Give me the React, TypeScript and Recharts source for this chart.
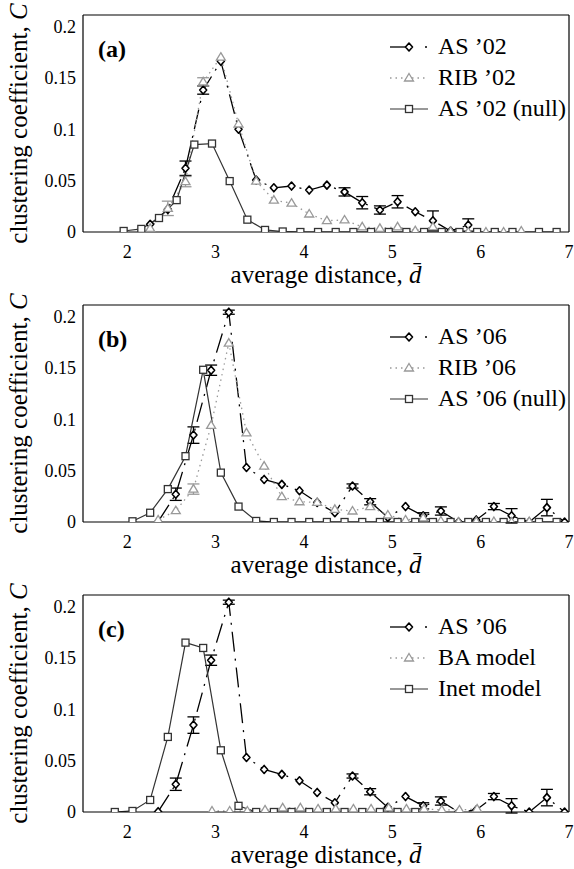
import React from "react";
import { LineChart, Line, XAxis, YAxis, ErrorBar, Legend } from "recharts";

const W = 574;
const H = 290;
const FONT = "Liberation Serif";

const xTicks = [2, 3, 4, 5, 6, 7];
const yTicks = [0, 0.05, 0.1, 0.15, 0.2];

// (a) 2002 snapshot
const as02X = [2.26, 2.46, 2.66, 2.86, 3.06, 3.26, 3.46, 3.66, 3.86, 4.06, 4.26, 4.46, 4.66, 4.86, 5.06, 5.26, 5.46, 5.66, 5.86];
const as02Y = [0.0075, 0.022, 0.062, 0.138, 0.166, 0.1, 0.0505, 0.043, 0.0447, 0.0408, 0.0456, 0.039, 0.0285, 0.0214, 0.0294, 0.0197, 0.011, 0.001, 0.0068];
const as02Err = [0, 0, 0.007, 0.004, 0, 0, 0, 0, 0, 0, 0, 0.004, 0.006, 0.004, 0.006, 0, 0.0095, 0, 0.006];

const rib02X = [2.26, 2.46, 2.66, 2.86, 3.06, 3.26, 3.46, 3.66, 3.86, 4.06, 4.26, 4.46, 4.66, 4.86, 5.06, 5.26, 5.46, 5.66, 5.86, 6.06, 6.26, 6.46];
const rib02Y = [0.0036, 0.023, 0.049, 0.146, 0.17, 0.105, 0.0495, 0.031, 0.028, 0.0175, 0.011, 0.0117, 0.005, 0.0036, 0.005, 0.0013, 0.005, 0.0005, 0, 0, 0, 0.001];
const rib02Err = [0, 0.007, 0.005, 0.004, 0, 0, 0, 0, 0, 0, 0, 0, 0, 0, 0, 0, 0, 0, 0, 0, 0, 0];

const null02X = [1.96, 2.16, 2.36, 2.56, 2.76, 2.96, 3.16, 3.36, 3.56, 3.76, 3.96, 4.16, 4.36, 4.56, 4.76, 4.96, 5.16, 5.36, 5.56, 5.76, 5.96, 6.16, 6.36, 6.66, 6.86];
const null02Y = [0.001, 0.003, 0.0136, 0.031, 0.085, 0.086, 0.0495, 0.012, 0.002, 0.0005, 0, 0, 0, 0, 0, 0, 0, 0, 0, 0, 0, 0, 0, 0, 0];

// (b), (c) 2006 snapshot
const as06X = [2.35, 2.55, 2.75, 2.95, 3.15, 3.35, 3.55, 3.75, 3.95, 4.15, 4.35, 4.55, 4.75, 4.95, 5.15, 5.35, 5.55, 5.75, 5.95, 6.15, 6.35, 6.55, 6.75, 6.95];
const as06Y = [0.0003, 0.027, 0.0845, 0.1476, 0.204, 0.053, 0.0414, 0.0366, 0.0304, 0.019, 0.009, 0.035, 0.0197, 0.0045, 0.015, 0.006, 0.0107, 0, 0.002, 0.015, 0.006, 0, 0.014, 0];
const as06Err = [0, 0.006, 0.008, 0.005, 0.002, 0, 0, 0, 0, 0, 0, 0.002, 0.003, 0, 0, 0.003, 0.004, 0, 0, 0.003, 0.007, 0, 0.008, 0];

const rib06X = [2.35, 2.55, 2.75, 2.95, 3.15, 3.35, 3.55, 3.75, 3.95, 4.15, 4.35, 4.55, 4.75, 4.95, 5.15, 5.35, 5.55, 5.75, 5.95, 6.15, 6.35, 6.55];
const rib06Y = [0.002, 0.011, 0.032, 0.094, 0.174, 0.0867, 0.0544, 0.0246, 0.0197, 0.019, 0.0123, 0.0107, 0.015, 0.0068, 0.002, 0.004, 0.001, 0, 0.0005, 0.0005, 0, 0.0005];
const rib06Err = [0, 0, 0.005, 0, 0, 0, 0, 0, 0, 0, 0, 0, 0, 0, 0, 0, 0, 0, 0, 0, 0, 0];

const null06X = [2.06, 2.26, 2.46, 2.66, 2.86, 3.06, 3.26, 3.46, 3.66, 3.86, 4.06, 4.26, 4.46, 4.66, 4.86, 5.06, 5.26, 5.46, 5.66, 5.86, 6.06, 6.26, 6.46, 6.66, 6.86];
const null06Y = [0.0007, 0.009, 0.032, 0.064, 0.148, 0.048, 0.015, 0.001, 0, 0, 0, 0, 0, 0, 0, 0, 0, 0, 0, 0, 0, 0, 0, 0, 0];

const baX = [2.96, 3.16, 3.36, 3.56, 3.76, 3.96, 4.16, 4.36, 4.56, 4.76, 4.96, 5.16, 5.36, 5.56, 5.76, 5.96];
const baY = [0.001, 0.001, 0.001, 0.002, 0.004, 0.004, 0.003, 0.003, 0.003, 0.003, 0.004, 0.003, 0.003, 0.002, 0.002, 0.003];

const inetX = [1.86, 2.06, 2.26, 2.46, 2.66, 2.86, 3.06, 3.26, 3.46, 3.66, 3.86, 4.06, 4.26, 4.46, 4.66, 4.86, 5.06, 5.26];
const inetY = [0, 0.001, 0.0117, 0.073, 0.1647, 0.1595, 0.06, 0.006, 0, 0, 0, 0, 0, 0, 0, 0, 0, 0];

type Row = { x: number; y: number; err: number };
type Kind = "as" | "rib" | "null";
type Series = { name: string; kind: Kind; data: Row[] };

const rows = (xs: number[], ys: number[], errs?: number[]): Row[] =>
  xs.map((x, i) => ({ x, y: ys[i], err: errs ? errs[i] : 0 }));

const STYLE: Record<Kind, { stroke: string; dash?: string; width: number }> = {
  as: { stroke: "#000", dash: "20 7 2 7", width: 1.3 },
  rib: { stroke: "#999", dash: "1.5 4", width: 1.3 },
  null: { stroke: "#333", width: 1.2 },
};

function Marker({ kind, cx, cy }: { kind: Kind; cx: number; cy: number }) {
  if (kind === "as")
    return (
      <polygon
        points={`${cx},${cy - 4} ${cx + 3.5},${cy} ${cx},${cy + 4} ${cx - 3.5},${cy}`}
        fill="#fff"
        stroke="#000"
        strokeWidth={1.6}
        strokeLinejoin="round"
      />
    );
  if (kind === "rib")
    return (
      <polygon
        points={`${cx},${cy - 4.5} ${cx + 4.5},${cy + 3} ${cx - 4.5},${cy + 3}`}
        fill="#fff"
        stroke="#999"
        strokeWidth={1.3}
      />
    );
  return <rect x={cx - 3.5} y={cy - 3.5} width={7} height={7} fill="#fff" stroke="#333" strokeWidth={1.3} />;
}

function Swatch({ kind }: { kind: Kind }) {
  const s = STYLE[kind];
  return (
    <svg width={48} height={14} style={{ display: "block" }}>
      {kind === "as" ? (
        <>
          <line x1={0} y1={7} x2={19} y2={7} stroke="#000" strokeWidth={1.3} />
          <line x1={35} y1={7} x2={37} y2={7} stroke="#000" strokeWidth={1.3} />
        </>
      ) : (
        <line x1={0} y1={7} x2={38} y2={7} stroke={s.stroke} strokeWidth={s.width} strokeDasharray={s.dash} />
      )}
      <Marker kind={kind} cx={19} cy={7} />
    </svg>
  );
}

const yFmt = (v: number) => (v === 0 ? "0" : String(v));

function Panel({ tag, series }: { tag: string; series: Series[] }) {
  const tickStyle = { fontSize: 18, fill: "#000", fontFamily: FONT };
  return (
    <div style={{ position: "relative", width: W, height: H }}>
      <LineChart width={W} height={H} margin={{ top: 15, right: 5, bottom: 0, left: 0 }}>
        <XAxis
          dataKey="x"
          type="number"
          domain={[1.5, 7]}
          ticks={xTicks}
          allowDataOverflow
          height={58}
          tickSize={0}
          tickMargin={13}
          tickLine={false}
          axisLine={{ stroke: "#000", strokeWidth: 1.2 }}
          tick={tickStyle}
          label={(p: any) => {
            const vb = p.viewBox;
            return (
              <text x={vb.x + vb.width / 2} y={vb.y + 51} textAnchor="middle" fontFamily={FONT} fontSize={25} fill="#000">
                average distance, <tspan fontStyle="italic">{"d\u0304"}</tspan>
              </text>
            );
          }}
        />
        <XAxis xAxisId="bm" type="number" domain={[1.5, 7]} ticks={xTicks} allowDataOverflow mirror orientation="bottom" tick={false} tickSize={6} axisLine={false} tickLine={{ stroke: "#000", strokeWidth: 1.2 }} />
        <XAxis xAxisId="top" type="number" domain={[1.5, 7]} ticks={xTicks} allowDataOverflow mirror orientation="top" tick={false} tickSize={6} axisLine={{ stroke: "#000", strokeWidth: 1.2 }} tickLine={{ stroke: "#000", strokeWidth: 1.2 }} />
        <YAxis
          type="number"
          domain={[0, 0.211]}
          ticks={yTicks}
          allowDataOverflow
          width={83}
          tickSize={0}
          tickMargin={7}
          tickLine={false}
          axisLine={{ stroke: "#000", strokeWidth: 1.2 }}
          tick={tickStyle}
          tickFormatter={yFmt}
          label={(p: any) => {
            const vb = p.viewBox;
            const cy = vb.y + vb.height / 2;
            return (
              <text x={27} y={cy} textAnchor="middle" transform={`rotate(-90, 27, ${cy})`} fontFamily={FONT} fontSize={25} fill="#000">
                clustering coefficient, <tspan fontStyle="italic">C</tspan>
              </text>
            );
          }}
        />
        <YAxis yAxisId="lm" type="number" domain={[0, 0.211]} ticks={yTicks} allowDataOverflow mirror orientation="left" tick={false} tickSize={6} axisLine={false} tickLine={{ stroke: "#000", strokeWidth: 1.2 }} />
        <YAxis yAxisId="right" type="number" domain={[0, 0.211]} ticks={yTicks} allowDataOverflow mirror orientation="right" tick={false} tickSize={6} axisLine={{ stroke: "#000", strokeWidth: 1.2 }} tickLine={{ stroke: "#000", strokeWidth: 1.2 }} />
        {series.map((s) => {
          const st = STYLE[s.kind];
          return (
            <Line
              key={s.name}
              data={s.data}
              dataKey="y"
              type="linear"
              stroke={st.stroke}
              strokeWidth={st.width}
              strokeDasharray={st.dash}
              isAnimationActive={false}
              dot={(p: any) => (
                <g key={`${s.kind}-${p.index}`}>
                  {p.cy == null ? null : <Marker kind={s.kind} cx={p.cx} cy={p.cy} />}
                </g>
              )}
              activeDot={false}
            >
              {s.kind !== "null" && (
                <ErrorBar dataKey="err" width={6} stroke={st.stroke} strokeWidth={1.3} direction="y" />
              )}
            </Line>
          );
        })}
        <Legend
          layout="vertical"
          align="center"
          verticalAlign="middle"
          wrapperStyle={{ left: 390, top: 31, width: 184 }}
          content={() => (
            <div style={{ fontFamily: FONT, fontSize: 24, color: "#000" }}>
              {series.map((s) => (
                <div key={s.name} style={{ display: "flex", alignItems: "center", height: 31, whiteSpace: "nowrap" }}>
                  <Swatch kind={s.kind} />
                  <span>{s.name}</span>
                </div>
              ))}
            </div>
          )}
        />
      </LineChart>
      <div style={{ position: "absolute", left: 98, top: 37, fontFamily: FONT, fontSize: 24, fontWeight: "bold", lineHeight: "24px" }}>
        {tag}
      </div>
    </div>
  );
}

const panelA: Series[] = [
  { name: "AS \u201902", kind: "as", data: rows(as02X, as02Y, as02Err) },
  { name: "RIB \u201902", kind: "rib", data: rows(rib02X, rib02Y, rib02Err) },
  { name: "AS \u201902 (null)", kind: "null", data: rows(null02X, null02Y) },
];
const panelB: Series[] = [
  { name: "AS \u201906", kind: "as", data: rows(as06X, as06Y, as06Err) },
  { name: "RIB \u201906", kind: "rib", data: rows(rib06X, rib06Y, rib06Err) },
  { name: "AS \u201906 (null)", kind: "null", data: rows(null06X, null06Y) },
];
const panelC: Series[] = [
  { name: "AS \u201906", kind: "as", data: rows(as06X, as06Y, as06Err) },
  { name: "BA model", kind: "rib", data: rows(baX, baY) },
  { name: "Inet model", kind: "null", data: rows(inetX, inetY) },
];

export default function App() {
  return (
    <div style={{ position: "absolute", left: 0, top: 0, width: W, height: 869, background: "#fff", fontFamily: FONT }}>
      <Panel tag="(a)" series={panelA} />
      <Panel tag="(b)" series={panelB} />
      <Panel tag="(c)" series={panelC} />
    </div>
  );
}
